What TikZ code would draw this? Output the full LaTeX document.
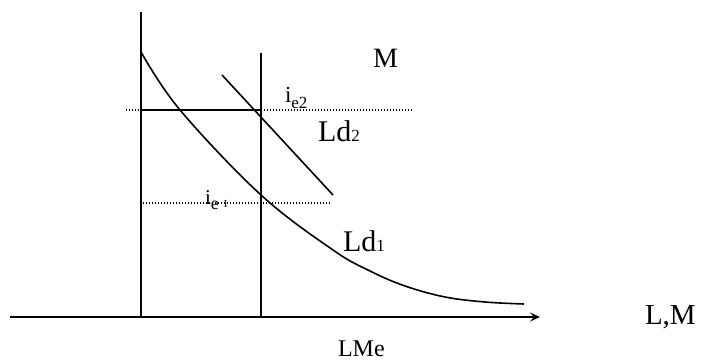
\documentclass[tikz,border=0pt]{standalone}
\usepackage{fontspec}
\setmainfont{Liberation Serif}
\usetikzlibrary{
	arrows.meta,
	calc,
	positioning
}
\newcommand{\fsz}[1]{\fontsize{#1}{#1}\selectfont}
\tikzset{
	solidline/.style={line width=1.9pt},
	curveline/.style={line width=1.6pt},
	dotline/.style={line width=1.1pt, dash pattern=on 1.1pt off 1.9pt},
	lbl/.style={anchor=base west, inner sep=0pt, outer sep=0pt}
}

\begin{document}
\begin{tikzpicture}[x=1pt, y=1pt]
		\useasboundingbox (0,0) rectangle (701,361);
		
		% 坐标轴与两条竖线
		\coordinate (A0) at (10,44);
		\coordinate (A1) at (540,44);
		\coordinate (V1b) at (141,44);
		\coordinate (V1t) at (141,349);
		\coordinate (V2b) at (261,44);
		\coordinate (V2t) at (261,308);
		\coordinate (H2a) at (141,251);
		\coordinate (H2b) at (261,251);
		
		% 虚线的端点
		\coordinate (D2a) at (126,251);
		\coordinate (D2b) at (413,251);
		\coordinate (D1a) at (143,158);
		\coordinate (D1b) at (330,158);
		
		% Ld2 直线
		\coordinate (P2a) at (222,286);
		\coordinate (P2b) at (333,166);
		
		\draw[dotline] (D2a) -- (D2b);
		\draw[dotline] (D1a) -- (D1b);
		
		\draw[solidline, -{Stealth[length=10pt, width=9pt, inset=4pt]}] (A0) -- (A1);
		\draw[solidline] (V1b) -- (V1t);
		\draw[solidline] (V2b) -- (V2t);
		\draw[solidline] (H2a) -- (H2b);
		
		\draw[curveline] (P2a) -- (P2b);
		\draw[curveline] plot[smooth, tension=0.6] coordinates {(141,309) (180,251) (261,166) (333,111) (370,90) (405,75) (445,64) (485,59) (524,57)};
		
		% 文字
		\node[lbl, font=\fsz{28}] (M) at (373,293) {M};
		\node[lbl] (ie2) at (285,258) {\fsz{23}i\raisebox{-6pt}{\fsz{17}e2}};
		\node[lbl] (Ld2) at (318,219) {\fsz{30}Ld\fsz{17}2};
		\node[lbl] (ie1) at (205,156) {\fsz{21}i\raisebox{-5pt}{\fsz{18}e}\hspace{4pt}\raisebox{-3pt}{\fsz{11}1}};
		\node[lbl] (Ld1) at (343,109) {\fsz{30}Ld\fsz{17}1};
		\node[lbl, font=\fsz{24}] (LMe) at (338,4) {LMe};
		\node[lbl, font=\fsz{29}] (LM) at (645,36) {L,M};
	\end{tikzpicture}
\end{document}
